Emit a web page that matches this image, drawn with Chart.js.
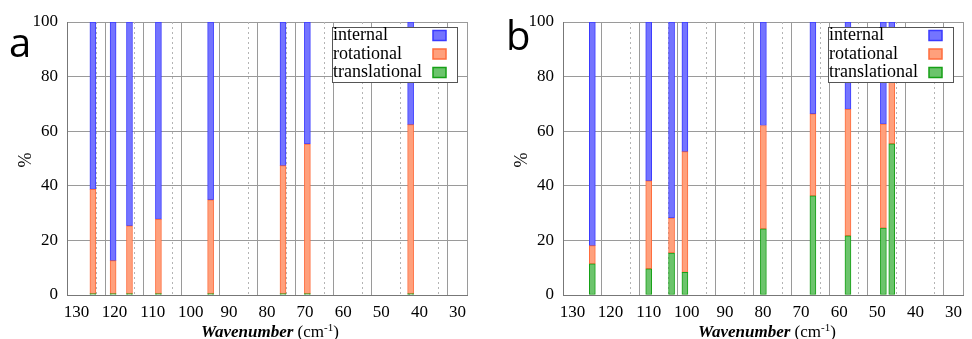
<!DOCTYPE html>
<html>
<head>
<meta charset="utf-8">
<script src="https://cdn.jsdelivr.net/npm/chart.js@4.4.1/dist/chart.umd.min.js"></script>
<style>
  body { margin: 0; background: #fff; width: 972px; height: 339px; overflow: hidden; position: relative; }
  .panel { position: absolute; top: 0; width: 486px; height: 339px; }
  .tag { position: absolute; font-family: "Open Sans", sans-serif; font-size: 40px; line-height: 1; color: #000; }
  .ytitle { position: absolute; font-family: "Liberation Serif", serif; font-size: 18px; transform: translate(-50%, -50%) rotate(-90deg); }
  .xtitle { position: absolute; font-family: "Liberation Serif", serif; font-size: 17px; white-space: nowrap; transform: translateX(-50%); }
  .xtitle b { font-style: italic; }
  .xtitle sup { font-size: 11px; vertical-align: 6px; line-height: 0; }
</style>
</head>
<body>
<div class="panel" style="left:0"><canvas id="chartA" width="486" height="339"></canvas></div>
<div class="panel" style="left:486px"><canvas id="chartB" width="486" height="339"></canvas></div>

<div class="tag" style="left:9px; top:22px">a</div>
<div class="tag" style="left:506px; top:15px">b</div>
<div class="ytitle" style="left:25px; top:160px">%</div>
<div class="ytitle" style="left:521px; top:160px">%</div>
<div class="xtitle" style="left:270px; top:322px"><b>Wavenumber</b> (cm<sup>-1</sup>)</div>
<div class="xtitle" style="left:767px; top:322px"><b>Wavenumber</b> (cm<sup>-1</sup>)</div>

<script>
// panel a
const wavenumbersA = [125.7, 120.4, 116.1, 108.5, 94.8, 75.8, 69.4, 42.3];
const translationalA = [0.5, 0.5, 0.5, 0.5, 0.5, 0.5, 0.5, 0.5];
const rotationalA = [38.2, 12.1, 24.8, 27.2, 34.4, 46.9, 54.8, 61.9];
const internalA = [61.3, 87.4, 74.7, 72.3, 65.1, 52.6, 44.7, 37.6];

// panel b
const wavenumbersB = [124.8, 110, 104, 100.5, 79.9, 66.9, 57.7, 48.4, 46.2];
const translationalB = [11.4, 9.6, 15.4, 8.3, 24.2, 36.3, 21.7, 24.5, 55.4];
const rotationalB = [6.7, 32.2, 12.8, 44.2, 37.9, 30.1, 46.3, 38.1, 31.6];
const internalB = [81.9, 58.2, 71.8, 47.5, 37.9, 33.6, 32.0, 37.4, 13.0];

const xTicks = [130, 120, 110, 100, 90, 80, 70, 60, 50, 40, 30];
const yTicks = [0, 20, 40, 60, 80, 100];

const serif = '"Liberation Serif", "Times New Roman", serif';
const tickFont = { family: serif, size: 17 };

const colors = {
    internal: { bg: '#7474ff', border: '#3a3aff' },
    rotational: { bg: '#ffa07c', border: '#ff6c3c' },
    translational: { bg: '#6cc46c', border: '#16a016' },
};

function series(label, xs, ys) {
    return {
        label: label,
        data: xs.map((x, i) => ({ x: x, y: ys[i] })),
        backgroundColor: colors[label].bg,
        borderColor: colors[label].border,
        borderWidth: 1,
        borderSkipped: false,
        barThickness: 6,
    };
}

// dotted lines at the 5-offset ticks
const dottedGrid = {
    id: 'dottedGrid',
    beforeDatasetsDraw(chart) {
        const { ctx, chartArea, scales } = chart;
        ctx.save();
        ctx.strokeStyle = '#b4b4b4';
        ctx.lineWidth = 1;
        ctx.setLineDash([2, 3]);
        scales.x.ticks.forEach(t => {
            if (t.value % 10 === 0) return;
            const px = Math.round(scales.x.getPixelForValue(t.value)) + 0.5;
            ctx.beginPath();
            ctx.moveTo(px, chartArea.top);
            ctx.lineTo(px, chartArea.bottom);
            ctx.stroke();
        });
        ctx.restore();
    }
};

// boxed legend in the top right corner, labels left and swatches right
const boxLegend = {
    id: 'boxLegend',
    afterDraw(chart) {
        const { ctx, chartArea } = chart;
        const w = 125, h = 55;
        const x = Math.round(chartArea.right - 10 - w), y = Math.round(chartArea.top + 5);
        ctx.save();
        ctx.fillStyle = '#fff';
        ctx.fillRect(x, y, w, h);
        ctx.strokeStyle = '#555';
        ctx.lineWidth = 1;
        ctx.strokeRect(x + 0.5, y + 0.5, w, h);
        ctx.font = '18px ' + serif;
        ctx.textBaseline = 'middle';
        chart.data.datasets.slice().reverse().forEach((ds, i) => {
            const cy = y + 8.5 + i * 18.5;
            ctx.fillStyle = '#000';
            ctx.fillText(ds.label, x + 1, cy);
            ctx.fillStyle = ds.backgroundColor;
            ctx.fillRect(x + w - 24, cy - 5, 13, 10);
            ctx.strokeStyle = ds.borderColor;
            ctx.lineWidth = 1.5;
            ctx.strokeRect(x + w - 24, cy - 5, 13, 10);
        });
        ctx.restore();
    }
};

function makeChart(id, xs, trans, rot, internal, yWidth, padRight) {
    return new Chart(document.getElementById(id), {
        type: 'bar',
        data: {
            datasets: [
                series('translational', xs, trans),
                series('rotational', xs, rot),
                series('internal', xs, internal),
            ]
        },
        options: {
            responsive: false,
            animation: false,
            layout: { padding: { top: 22, right: padRight, left: 0, bottom: 0 } },
            plugins: { legend: { display: false }, tooltip: { enabled: false } },
            scales: {
                x: {
                    type: 'linear',
                    stacked: true,
                    reverse: true,
                    min: 30,
                    max: 130,
                    afterFit: s => { s.height = 44; },
                    afterBuildTicks: s => {
                        const t = [];
                        for (let v = 130; v >= 30; v -= 5) t.push({ value: v });
                        s.ticks = t;
                    },
                    ticks: {
                        autoSkip: false,
                        maxRotation: 0,
                        padding: 7,
                        color: '#000',
                        font: tickFont,
                        callback: v => xTicks.includes(v) ? String(v) : '',
                    },
                    grid: {
                        drawTicks: false,
                        color: c => (c.tick && c.tick.value % 10 !== 0) ? 'rgba(0,0,0,0)' : '#9a9a9a',
                    },
                    border: { color: '#777' },
                },
                y: {
                    stacked: true,
                    min: 0,
                    max: 100,
                    afterFit: s => { s.width = yWidth; },
                    afterBuildTicks: s => { s.ticks = yTicks.map(v => ({ value: v })); },
                    ticks: { padding: 9, color: '#000', font: tickFont },
                    grid: { drawTicks: false, color: '#9a9a9a' },
                    border: { color: '#777' },
                }
            }
        },
        plugins: [dottedGrid, boxLegend]
    });
}

makeChart('chartA', wavenumbersA, translationalA, rotationalA, internalA, 67, 19);
makeChart('chartB', wavenumbersB, translationalB, rotationalB, internalB, 77, 9);
</script>
</body>
</html>
